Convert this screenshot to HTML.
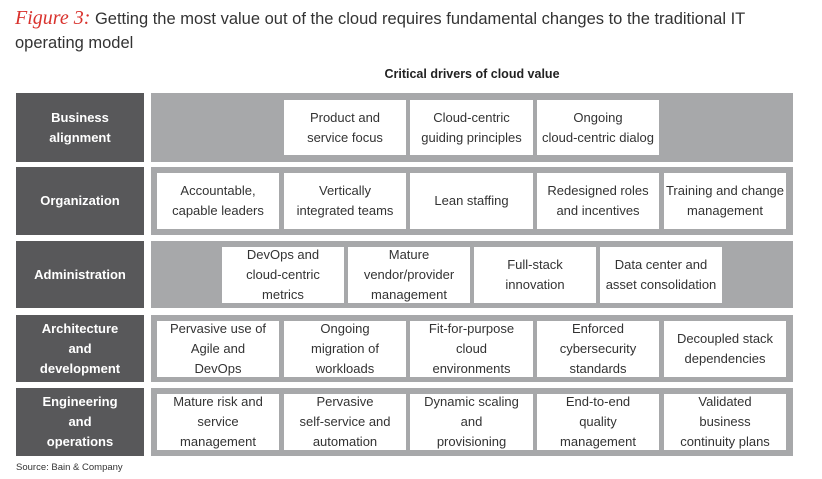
<!DOCTYPE html>
<html><head><meta charset="utf-8"><style>
body{margin:0;width:822px;height:479px;background:#fff;position:relative;overflow:hidden;font-family:"Liberation Sans",sans-serif;}
.a{position:absolute;}
.lab{position:absolute;left:16px;width:128px;background:#58585a;color:#fff;font-weight:bold;font-size:13px;line-height:20px;display:flex;align-items:center;justify-content:center;text-align:center;}
.band{position:absolute;left:151px;width:642px;background:#a7a8aa;}
.box{position:absolute;background:#fff;color:#333;font-size:13px;line-height:20px;display:flex;align-items:center;justify-content:center;text-align:center;overflow:hidden;white-space:nowrap;}
</style></head><body>
<div class="a" style="left:15px;top:6px;width:800px;font-size:16.5px;line-height:24px;color:#333;"><span style="color:#d9322d;font-family:'Liberation Serif',serif;font-style:italic;font-size:20px;">Figure 3:</span> Getting the most value out of the cloud requires fundamental changes to the traditional IT operating model</div>
<div class="a" style="left:151px;width:642px;top:67px;text-align:center;font-weight:bold;font-size:12.5px;color:#222;">Critical drivers of cloud value</div>

<div class="lab" style="top:93px;height:69px;">Business<br>alignment</div>
<div class="band" style="top:93px;height:69px;"></div>
<div class="box" style="left:284px;width:122px;top:100px;height:55px;">Product and<br>service focus</div>
<div class="box" style="left:410px;width:123px;top:100px;height:55px;">Cloud-centric<br>guiding principles</div>
<div class="box" style="left:537px;width:122px;top:100px;height:55px;">Ongoing<br>cloud-centric dialog</div>

<div class="lab" style="top:167px;height:68px;">Organization</div>
<div class="band" style="top:167px;height:68px;"></div>
<div class="box" style="left:157px;width:122px;top:173px;height:56px;">Accountable,<br>capable leaders</div>
<div class="box" style="left:284px;width:122px;top:173px;height:56px;">Vertically<br>integrated teams</div>
<div class="box" style="left:410px;width:123px;top:173px;height:56px;">Lean staffing</div>
<div class="box" style="left:537px;width:122px;top:173px;height:56px;">Redesigned roles<br>and incentives</div>
<div class="box" style="left:664px;width:122px;top:173px;height:56px;">Training and change<br>management</div>

<div class="lab" style="top:241px;height:67px;">Administration</div>
<div class="band" style="top:241px;height:67px;"></div>
<div class="box" style="left:222px;width:122px;top:247px;height:56px;">DevOps and<br>cloud-centric<br>metrics</div>
<div class="box" style="left:348px;width:122px;top:247px;height:56px;">Mature<br>vendor/provider<br>management</div>
<div class="box" style="left:474px;width:122px;top:247px;height:56px;">Full-stack<br>innovation</div>
<div class="box" style="left:600px;width:122px;top:247px;height:56px;">Data center and<br>asset consolidation</div>

<div class="lab" style="top:315px;height:67px;">Architecture<br>and<br>development</div>
<div class="band" style="top:315px;height:67px;"></div>
<div class="box" style="left:157px;width:122px;top:321px;height:56px;">Pervasive use of<br>Agile and<br>DevOps</div>
<div class="box" style="left:284px;width:122px;top:321px;height:56px;">Ongoing<br>migration of<br>workloads</div>
<div class="box" style="left:410px;width:123px;top:321px;height:56px;">Fit-for-purpose<br>cloud<br>environments</div>
<div class="box" style="left:537px;width:122px;top:321px;height:56px;">Enforced<br>cybersecurity<br>standards</div>
<div class="box" style="left:664px;width:122px;top:321px;height:56px;">Decoupled stack<br>dependencies</div>

<div class="lab" style="top:388px;height:68px;">Engineering<br>and<br>operations</div>
<div class="band" style="top:388px;height:68px;"></div>
<div class="box" style="left:157px;width:122px;top:394px;height:56px;">Mature risk and<br>service<br>management</div>
<div class="box" style="left:284px;width:122px;top:394px;height:56px;">Pervasive<br>self-service and<br>automation</div>
<div class="box" style="left:410px;width:123px;top:394px;height:56px;">Dynamic scaling<br>and<br>provisioning</div>
<div class="box" style="left:537px;width:122px;top:394px;height:56px;">End-to-end<br>quality<br>management</div>
<div class="box" style="left:664px;width:122px;top:394px;height:56px;">Validated<br>business<br>continuity plans</div>

<div class="a" style="left:16px;top:462px;font-size:9.5px;color:#333;">Source: Bain &amp; Company</div>
</body></html>
